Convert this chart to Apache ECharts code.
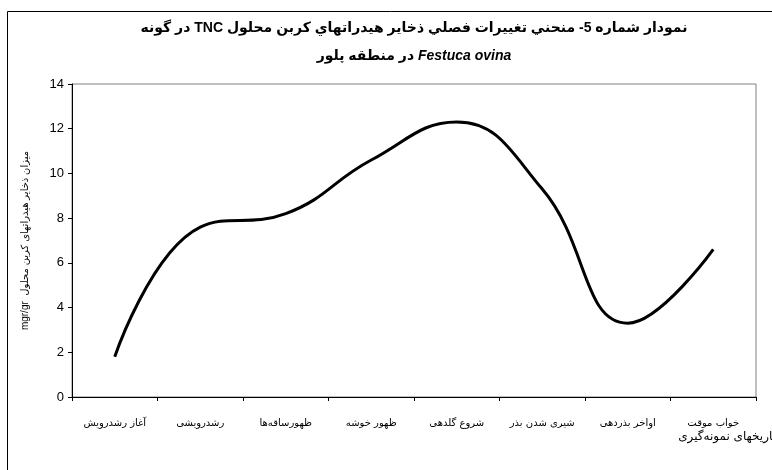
<!DOCTYPE html>
<html>
<head>
<meta charset="utf-8">
<script src="https://cdn.jsdelivr.net/npm/echarts@6/dist/echarts.min.js"></script>
<style>
html,body{margin:0;padding:0;background:#fff;}
#c{width:772px;height:470px;}
</style>
</head>
<body>
<div id="c"></div>
<script>
var categories = ["آغاز رشدرویش", "رشدرویشی", "ظهورساقه‌ها", "ظهور خوشه", "شروع گلدهی", "شیری شدن بذر", "اواخر بذردهی", "خواب موقت"];
var tncValues = [1.8, 7.6, 8.2, 10.6, 12.3, 9.3, 3.3, 6.6];
var yTicks = {min: 0, max: 14, interval: 2};
var titleLine1 = ["در گونه", " TNC ", "نمودار شماره 5- منحني تغييرات فصلي ذخاير هيدراتهاي كربن محلول"];
var titleLine2 = ["در منطقه پلور ", "Festuca ovina"];
var yName = "mgr/gr  میزان ذخایر هیدراتهای کربن محلول";
var xName = "تاریخهای نمونه‌گیری";

var FONT = "'Liberation Sans', Arial, 'DejaVu Sans', sans-serif";
var chart = echarts.init(document.getElementById('c'), null, {renderer: 'canvas'});
chart.setOption({
  backgroundColor: '#ffffff',
  animation: false,
  grid: {left: 72, right: 16, top: 84, bottom: 73, show: true, borderColor: '#808080', borderWidth: 1, backgroundColor: 'transparent'},
  xAxis: {
    type: 'category',
    data: categories,
    boundaryGap: true,
    axisLine: {lineStyle: {color: '#000', width: 1}},
    axisTick: {show: true, length: 4, inside: false, lineStyle: {color: '#000'}},
    axisLabel: {color: '#000', fontSize: 10, fontFamily: "'DejaVu Sans', sans-serif", margin: 21, interval: 0},
    splitLine: {show: false}
  },
  yAxis: {
    type: 'value',
    min: yTicks.min, max: yTicks.max, interval: yTicks.interval,
    name: yName,
    nameLocation: 'middle',
    nameGap: 42,
    nameTextStyle: {color: '#000', fontSize: 10, fontFamily: FONT},
    axisLine: {show: true, lineStyle: {color: '#000', width: 1}},
    axisTick: {show: true, length: 4, lineStyle: {color: '#000'}},
    axisLabel: {color: '#000', fontSize: 13, fontFamily: FONT, margin: 8},
    splitLine: {show: false}
  },
  series: [{
    type: 'line',
    data: tncValues,
    smooth: 0.45,
    symbol: 'none',
    lineStyle: {color: '#000', width: 3}
  }],
  graphic: [
    {type: 'rect', shape: {x: 7.5, y: 11.5, width: 800, height: 500}, style: {fill: 'none', stroke: '#000', lineWidth: 1}, z: 0, silent: true},
    {type: 'text', x: 414, y: 42, z: 10,
      style: {
        text: '{a|' + titleLine1[0] + '}{b|' + titleLine1[1] + '}{a|' + titleLine1[2] + '}\n{a|' + titleLine2[0] + '}{i|' + titleLine2[1] + '}',
        align: 'center', verticalAlign: 'middle',
        rich: {
          a: {font: "bold 14px " + FONT, fill: '#000', lineHeight: 28},
          b: {font: "bold 14px " + FONT, fill: '#000', lineHeight: 28},
          i: {font: "italic bold 14px " + FONT, fill: '#000', lineHeight: 28}
        }
      }
    },
    {type: 'text', x: 776, y: 437, z: 10,
      style: {text: xName, font: "12px 'DejaVu Sans', sans-serif", fill: '#000', align: 'right', verticalAlign: 'middle'}
    }
  ]
});
</script>
</body>
</html>
